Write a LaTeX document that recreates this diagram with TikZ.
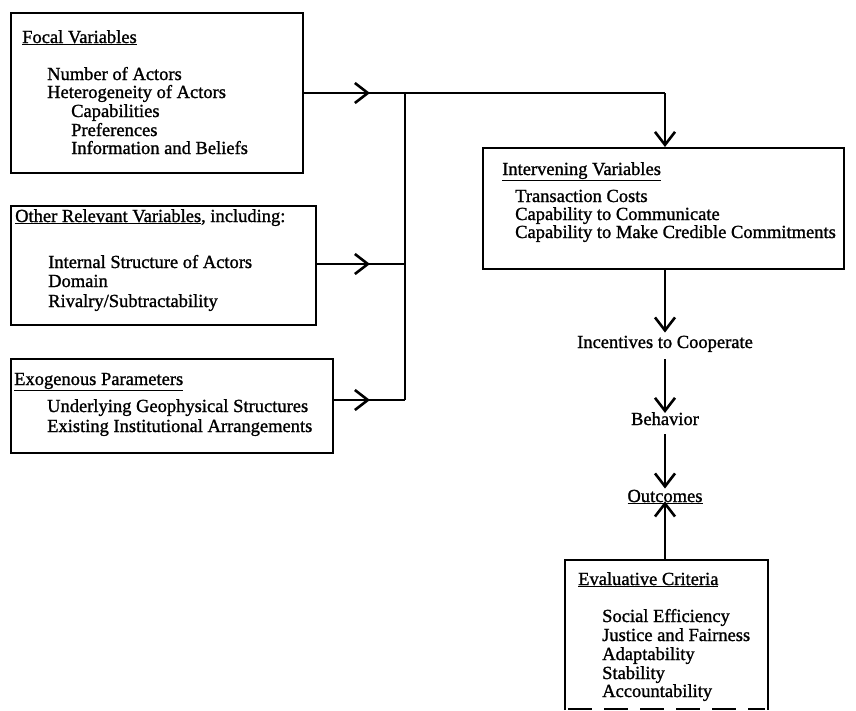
\documentclass[tikz,border=0pt]{standalone}
\usepackage{fontspec}
\setmainfont[FakeBold=1.2]{Liberation Serif}
\usetikzlibrary{arrows.meta,decorations.markings}
\begin{document}
\begin{tikzpicture}[x=1pt,y=-1pt,
  box/.style={draw,line width=2pt,anchor=north west,inner sep=0pt},
  txt/.style={anchor=base west,inner sep=0pt,font=\fontsize{18.5}{18.5}\selectfont},
  ctr/.style={anchor=base,inner sep=3pt,font=\fontsize{18.5}{18.5}\selectfont},
  wire/.style={line width=2pt},
  barb/.tip={Straight Barb[length=13pt,width=20pt,line width=2.6pt]},
  flow/.style={wire,-barb},
  midtip/.style={wire,postaction={decorate},decoration={markings,mark=at position -35pt with {\arrow{barb}}}}
]
\useasboundingbox (0,0) rectangle (856,710);

% input boxes
\node[box,minimum width=292pt,minimum height=160pt] (focal) at (10,12) {};
\node[box,minimum width=305pt,minimum height=119pt] (other) at (10,205) {};
\node[box,minimum width=322pt,minimum height=94pt] (exo) at (10,358) {};

\node[txt] (ft) at (22,43) {\underline{Focal Variables}};
\node[txt] (f1) at (47,80) {Number of Actors};
\node[txt] (f2) at (47,98) {Heterogeneity of Actors};
\node[txt] (f3) at (71,117) {Capabilities};
\node[txt] (f4) at (71,136) {Preferences};
\node[txt] (f5) at (71,154) {Information and Beliefs};

\node[txt] (ot) at (15,222) {\underline{Other Relevant Variables}, including:};
\node[txt] (o1) at (48,268) {Internal Structure of Actors};
\node[txt] (o2) at (48,287) {Domain};
\node[txt] (o3) at (48,307) {Rivalry/Subtractability};

\node[txt] (et) at (14,385) {\underline{Exogenous Parameters}};
\node[txt] (e1) at (47,412) {Underlying Geophysical Structures};
\node[txt] (e2) at (47,432) {Existing Institutional Arrangements};

% intervening variables
\node[box,minimum width=361pt,minimum height=121pt] (interv) at (482,147) {};
\node[txt] (it) at (502,175) {\underline{Intervening Variables}};
\node[txt] (i1) at (515,202) {Transaction Costs};
\node[txt] (i2) at (515,220) {Capability to Communicate};
\node[txt] (i3) at (515,238) {Capability to Make Credible Commitments};

% chain of results
\node[ctr] (inc) at (665,348) {Incentives to Cooperate};
\node[ctr] (beh) at (665,425) {Behavior};
\node[ctr] (out) at (665,502) {\underline{Outcomes}};

% evaluative criteria (runs off the lower edge)
\draw[line width=2pt] (565,710) -- (565,560) -- (768,560) -- (768,710);
\draw[line width=1.5pt,dash pattern=on 24pt off 12pt] (568,709) -- (765,709);
\coordinate (evtop) at (665,560);
\node[txt] (vt) at (578,585) {\underline{Evaluative Criteria}};
\node[txt] (v1) at (602,622) {Social Efficiency};
\node[txt] (v2) at (602,641) {Justice and Fairness};
\node[txt] (v3) at (602,660) {Adaptability};
\node[txt] (v4) at (602,679) {Stability};
\node[txt] (v5) at (602,697) {Accountability};

% collecting bar
\coordinate (bt) at (405,93);
\coordinate (bo) at (405,264);
\coordinate (bb) at (405,400);
\coordinate (corner) at (665,93);
\draw[wire] (bt) -- (bb);

\draw[midtip] (focal.east |- bt) -- (bt);
\draw[wire] (bt) -- (corner);
\draw[flow] (corner) -- (interv.north -| corner);
\draw[midtip] (other.east |- bo) -- (bo);
\draw[midtip] (exo.east |- bb) -- (bb);

\draw[flow] (interv.south -| inc) -- (inc.north);
\draw[flow] (inc.south) ++(0,4) -- ([yshift=-4pt]beh.north);
\draw[flow] (beh.south) ++(0,6) -- ([yshift=-2pt]out.north);
\draw[flow] (evtop) -- ([yshift=6pt]out.south);
\end{tikzpicture}
\end{document}
